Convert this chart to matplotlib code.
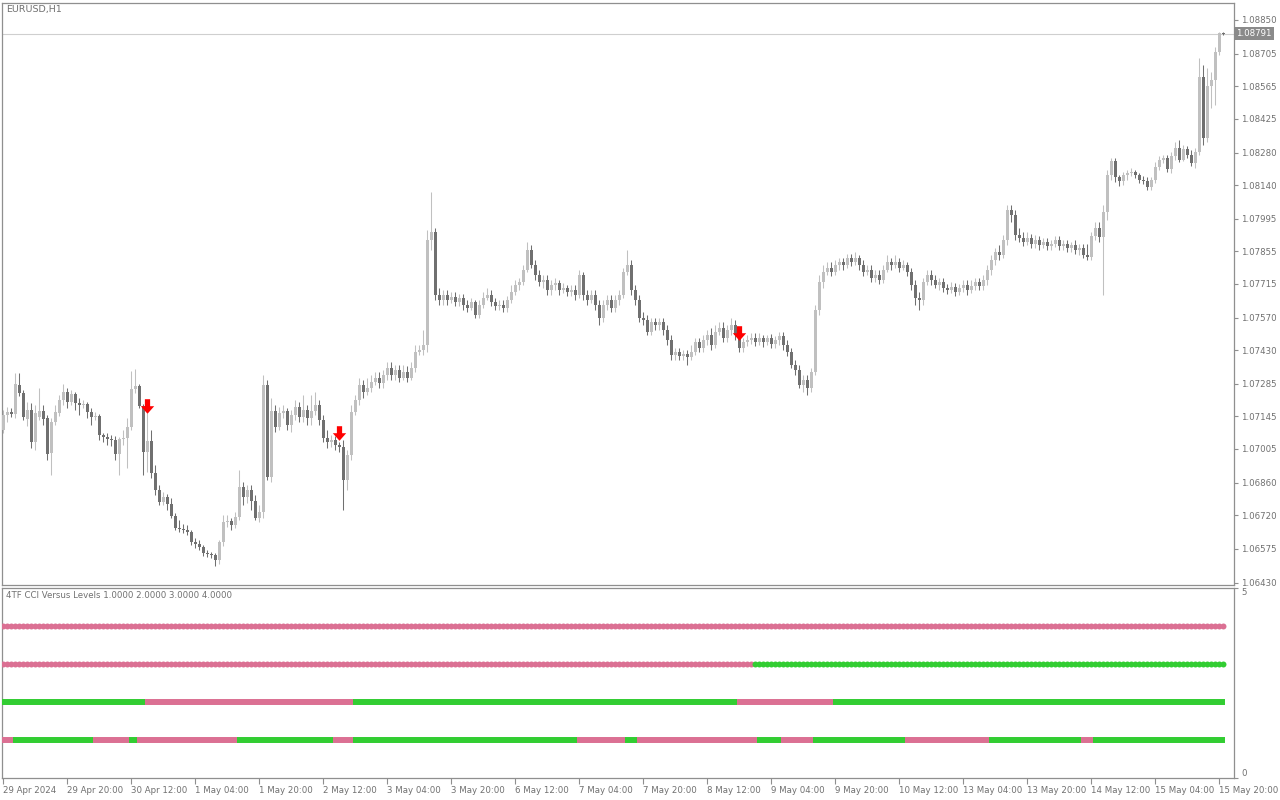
import numpy as np
import matplotlib.pyplot as plt
from matplotlib.path import Path

# EURUSD H1 bars, 29 Apr 2024 04:00 .. 15 May 21:00, quotes in points (1e-5)
open_pts = [
    107087, 107151, 107164, 107156, 107281, 107246, 107134, 107173, 107035, 107143,
    107169, 107139, 106988, 107121, 107160, 107216, 107250, 107207, 107242, 107203,
    107194, 107199, 107164, 107143, 107147, 107065, 107057, 107048, 107044, 106984,
    107048, 107053, 107100, 107263, 107276, 107190, 106992, 107040, 106902, 106829,
    106777, 106799, 106769, 106717, 106666, 106661, 106657, 106648, 106605, 106597,
    106584, 106558, 106554, 106550, 106528, 106605, 106691, 106696, 106679, 106713,
    106842, 106799, 106829, 106782, 106709, 106734, 107281, 106885, 107169, 107100,
    107160, 107169, 107108, 107151, 107186, 107143, 107173, 107139, 107169, 107194,
    107130, 107053, 107035, 107044, 107022, 107014, 106872, 106979, 107164, 107216,
    107281, 107250, 107268, 107293, 107311, 107289, 107324, 107354, 107324, 107345,
    107311, 107336, 107311, 107354, 107422, 107431, 107453, 107904, 107938, 107668,
    107646, 107668, 107646, 107659, 107637, 107655, 107625, 107612, 107637, 107581,
    107625, 107655, 107668, 107637, 107620, 107625, 107612, 107646, 107680, 107711,
    107723, 107775, 107861, 107797, 107754, 107723, 107732, 107689, 107711, 107719,
    107689, 107698, 107680, 107689, 107668, 107754, 107668, 107646, 107668, 107625,
    107569, 107625, 107646, 107612, 107646, 107668, 107766, 107797, 107689, 107646,
    107569, 107560, 107508, 107551, 107539, 107551, 107517, 107474, 107410, 107422,
    107405, 107414, 107401, 107422, 107465, 107440, 107474, 107496, 107453, 107508,
    107526, 107483, 107517, 107539, 107496, 107440, 107465, 107474, 107483, 107465,
    107483, 107465, 107483, 107457, 107474, 107491, 107453, 107422, 107367, 107345,
    107281, 107302, 107268, 107336, 107603, 107723, 107766, 107784, 107766, 107797,
    107809, 107797, 107827, 107809, 107827, 107797, 107766, 107775, 107741, 107754,
    107732, 107775, 107809, 107797, 107809, 107784, 107797, 107766, 107711, 107655,
    107646, 107723, 107754, 107732, 107711, 107723, 107698, 107689, 107702, 107680,
    107698, 107711, 107689, 107706, 107723, 107706, 107732, 107775, 107818, 107852,
    107839, 107904, 108033, 108012, 107925, 107913, 107895, 107913, 107887, 107904,
    107882, 107895, 107878, 107887, 107904, 107878, 107887, 107870, 107882, 107861,
    107870, 107839, 107831, 107921, 107956, 107917, 108024, 108184, 108244, 108175,
    108158, 108184, 108192, 108196, 108184, 108162, 108158, 108132, 108162, 108218,
    108248, 108257, 108209, 108265, 108300, 108248, 108295, 108270, 108235, 108282,
    108605, 108343, 108566, 108592, 108712, 108794,
]
high_pts = [
    107173, 107186, 107182, 107332, 107332, 107259, 107207, 107203, 107194, 107268,
    107194, 107151, 107139, 107194, 107238, 107285, 107268, 107259, 107250, 107225,
    107216, 107207, 107182, 107164, 107156, 107074, 107074, 107065, 107061, 107057,
    107087, 107139, 107341, 107349, 107285, 107199, 107160, 107087, 106937, 106850,
    106820, 106812, 106795, 106730, 106700, 106683, 106679, 106657, 106623, 106614,
    106593, 106571, 106562, 106558, 106614, 106721, 106721, 106709, 106734, 106915,
    106863, 106850, 106850, 106807, 106764, 107324, 107302, 107225, 107194, 107186,
    107194, 107182, 107173, 107216, 107207, 107238, 107194, 107238, 107250, 107216,
    107151, 107087, 107065, 107061, 107035, 107044, 107001, 107194, 107238, 107311,
    107302, 107311, 107324, 107336, 107336, 107345, 107379, 107379, 107367, 107367,
    107367, 107362, 107379, 107453, 107453, 107517, 107947, 108110, 107956, 107698,
    107689, 107689, 107680, 107680, 107672, 107672, 107646, 107655, 107646, 107646,
    107680, 107698, 107689, 107655, 107646, 107646, 107663, 107711, 107732, 107741,
    107797, 107895, 107882, 107818, 107775, 107754, 107754, 107732, 107741, 107732,
    107719, 107711, 107711, 107711, 107775, 107766, 107689, 107689, 107689, 107646,
    107646, 107668, 107668, 107668, 107689, 107784, 107861, 107818, 107711, 107668,
    107594, 107581, 107569, 107569, 107569, 107569, 107539, 107496, 107440, 107440,
    107431, 107431, 107453, 107483, 107483, 107496, 107517, 107526, 107539, 107551,
    107551, 107539, 107569, 107560, 107517, 107483, 107496, 107504, 107504, 107504,
    107496, 107496, 107500, 107491, 107508, 107508, 107474, 107440, 107388, 107367,
    107324, 107324, 107354, 107625, 107754, 107797, 107809, 107809, 107818, 107827,
    107827, 107844, 107844, 107852, 107839, 107818, 107797, 107797, 107775, 107775,
    107797, 107839, 107827, 107839, 107827, 107818, 107809, 107784, 107732, 107680,
    107741, 107775, 107775, 107754, 107741, 107741, 107715, 107723, 107719, 107715,
    107732, 107732, 107732, 107741, 107741, 107754, 107797, 107839, 107870, 107882,
    107925, 108055, 108055, 108033, 107956, 107938, 107938, 107930, 107925, 107921,
    107913, 107913, 107904, 107921, 107921, 107904, 107904, 107895, 107904, 107887,
    107887, 107887, 107938, 107981, 107981, 108055, 108205, 108257, 108257, 108184,
    108196, 108205, 108214, 108205, 108190, 108179, 108175, 108175, 108239, 108265,
    108270, 108270, 108282, 108325, 108334, 108313, 108308, 108291, 108300, 108687,
    108657, 108644, 108626, 108734, 108798, 108798,
]
low_pts = [
    107074, 107121, 107143, 107139, 107233, 107130, 107104, 107010, 107001, 107130,
    107108, 106958, 106894, 107108, 107147, 107194, 107182, 107194, 107173, 107151,
    107182, 107139, 107108, 107130, 107044, 107035, 107022, 107018, 106958, 106894,
    107022, 106924, 107087, 107246, 107182, 106894, 106906, 106881, 106807, 106764,
    106764, 106743, 106709, 106657, 106648, 106644, 106635, 106593, 106580, 106571,
    106545, 106541, 106537, 106502, 106511, 106588, 106670, 106657, 106666, 106700,
    106764, 106773, 106743, 106700, 106691, 106709, 106872, 106863, 107078, 107087,
    107139, 107087, 107078, 107130, 107121, 107121, 107108, 107108, 107151, 107108,
    107035, 107010, 107014, 107001, 106992, 106743, 106829, 106958, 107151, 107194,
    107225, 107238, 107250, 107281, 107268, 107268, 107302, 107302, 107302, 107293,
    107302, 107293, 107302, 107336, 107410, 107410, 107422, 107861, 107646, 107625,
    107625, 107625, 107633, 107620, 107620, 107603, 107594, 107603, 107569, 107569,
    107612, 107646, 107620, 107603, 107603, 107594, 107594, 107633, 107668, 107689,
    107711, 107766, 107784, 107732, 107706, 107698, 107668, 107668, 107689, 107668,
    107676, 107663, 107663, 107646, 107655, 107646, 107625, 107633, 107603, 107539,
    107551, 107603, 107594, 107594, 107625, 107655, 107754, 107668, 107625, 107551,
    107539, 107496, 107496, 107517, 107517, 107496, 107453, 107388, 107388, 107388,
    107388, 107367, 107388, 107410, 107422, 107422, 107453, 107431, 107440, 107496,
    107465, 107465, 107496, 107474, 107422, 107422, 107448, 107457, 107448, 107453,
    107444, 107453, 107440, 107440, 107453, 107431, 107405, 107354, 107324, 107268,
    107250, 107238, 107250, 107324, 107581, 107698, 107754, 107749, 107754, 107775,
    107775, 107784, 107792, 107797, 107775, 107749, 107754, 107723, 107723, 107715,
    107719, 107766, 107775, 107784, 107766, 107775, 107749, 107689, 107625, 107603,
    107625, 107711, 107711, 107698, 107689, 107680, 107672, 107676, 107663, 107668,
    107680, 107668, 107676, 107689, 107689, 107689, 107711, 107754, 107797, 107818,
    107827, 107882, 107981, 107904, 107895, 107878, 107882, 107870, 107870, 107861,
    107870, 107861, 107861, 107874, 107861, 107861, 107852, 107852, 107844, 107839,
    107827, 107818, 107818, 107904, 107895, 107668, 107990, 108162, 108153, 108136,
    108141, 108162, 108179, 108171, 108149, 108145, 108119, 108119, 108149, 108205,
    108235, 108196, 108192, 108248, 108239, 108244, 108257, 108222, 108214, 108270,
    108313, 108325, 108472, 108485, 108700, 108786,
]
close_pts = [
    107151, 107164, 107156, 107285, 107246, 107143, 107173, 107035, 107160, 107169,
    107134, 106984, 107121, 107164, 107216, 107250, 107207, 107242, 107203, 107194,
    107199, 107164, 107143, 107147, 107065, 107057, 107048, 107044, 106984, 107048,
    107053, 107100, 107263, 107276, 107190, 106992, 107040, 106902, 106829, 106777,
    106799, 106769, 106717, 106666, 106661, 106657, 106648, 106605, 106597, 106584,
    106558, 106554, 106550, 106528, 106605, 106691, 106696, 106679, 106713, 106842,
    106799, 106829, 106782, 106709, 106734, 107281, 106885, 107169, 107100, 107160,
    107169, 107108, 107151, 107186, 107143, 107173, 107139, 107169, 107194, 107130,
    107053, 107035, 107044, 107022, 107014, 106872, 106979, 107164, 107216, 107281,
    107250, 107268, 107293, 107311, 107289, 107324, 107354, 107324, 107345, 107311,
    107336, 107311, 107354, 107422, 107431, 107453, 107904, 107938, 107668, 107646,
    107668, 107646, 107659, 107637, 107655, 107625, 107612, 107637, 107581, 107625,
    107655, 107668, 107637, 107620, 107625, 107612, 107646, 107680, 107711, 107723,
    107775, 107861, 107797, 107754, 107723, 107732, 107689, 107711, 107719, 107689,
    107698, 107680, 107689, 107668, 107754, 107668, 107646, 107668, 107625, 107569,
    107625, 107646, 107612, 107646, 107668, 107766, 107797, 107689, 107646, 107569,
    107560, 107508, 107551, 107539, 107551, 107517, 107474, 107410, 107422, 107405,
    107414, 107401, 107422, 107465, 107440, 107474, 107496, 107453, 107508, 107526,
    107483, 107517, 107539, 107496, 107440, 107465, 107474, 107483, 107465, 107483,
    107465, 107483, 107457, 107474, 107491, 107453, 107422, 107367, 107345, 107281,
    107302, 107268, 107336, 107603, 107723, 107766, 107784, 107766, 107797, 107809,
    107797, 107827, 107809, 107827, 107797, 107766, 107775, 107741, 107754, 107732,
    107775, 107809, 107797, 107809, 107784, 107797, 107766, 107711, 107655, 107646,
    107723, 107754, 107732, 107711, 107723, 107698, 107689, 107702, 107680, 107698,
    107711, 107689, 107706, 107723, 107706, 107732, 107775, 107818, 107852, 107839,
    107904, 108033, 108012, 107925, 107913, 107895, 107913, 107887, 107904, 107882,
    107895, 107878, 107887, 107904, 107878, 107887, 107870, 107882, 107861, 107870,
    107839, 107831, 107921, 107956, 107917, 108024, 108184, 108244, 108175, 108158,
    108184, 108192, 108196, 108184, 108162, 108158, 108132, 108162, 108218, 108248,
    108257, 108209, 108265, 108300, 108248, 108295, 108270, 108235, 108282, 108605,
    108343, 108566, 108592, 108712, 108794, 108791,
]

# sell arrows drawn by the indicator (bar index, price)
arrow_bars = [36, 84, 184]
arrow_prices = [1.07190, 1.07074, 1.07504]

# 4TF CCI state per level as runs of (state, bars); 1 = above (green), 0 = below (pink)
runs_lvl1 = [(0, 3), (1, 20), (0, 9), (1, 2), (0, 25), (1, 24), (0, 5), (1, 56), (0, 12),
             (1, 3), (0, 30), (1, 6), (0, 8), (1, 23), (0, 21), (1, 23), (0, 3), (1, 33)]
runs_lvl2 = [(1, 36), (0, 52), (1, 96), (0, 24), (1, 98)]
runs_lvl3 = [(0, 188), (1, 118)]
runs_lvl4 = [(0, 306)]

price_ticks = [1.08850, 1.08705, 1.08565, 1.08425, 1.08280, 1.08140, 1.07995, 1.07855, 1.07715,
               1.07570, 1.07430, 1.07285, 1.07145, 1.07005, 1.06860, 1.06720, 1.06575, 1.06430]
time_labels = ["29 Apr 2024", "29 Apr 20:00", "30 Apr 12:00", "1 May 04:00", "1 May 20:00",
               "2 May 12:00", "3 May 04:00", "3 May 20:00", "6 May 12:00", "7 May 04:00",
               "7 May 20:00", "8 May 12:00", "9 May 04:00", "9 May 20:00", "10 May 12:00",
               "13 May 04:00", "13 May 20:00", "14 May 12:00", "15 May 04:00", "15 May 20:00"]
label_step = 16

BULL = "#c0c0c0"
BEAR = "#707070"
PINK = "#db7093"
GREEN = "#32cd32"
FRAME = "#8f8f8f"
TEXT = "#707070"

plt.rcParams["font.family"] = "DejaVu Sans"
plt.rcParams["font.size"] = 6.2

o = np.array(open_pts) / 1e5
h = np.array(high_pts) / 1e5
l = np.array(low_pts) / 1e5
c = np.array(close_pts) / 1e5
x = np.arange(len(c))

fig = plt.figure(figsize=(12.8, 8), dpi=100)
ax = fig.add_axes([2 / 1280, 1 - 585 / 800, 1232 / 1280, 582 / 800])
ax2 = fig.add_axes([2 / 1280, 1 - 778 / 800, 1232 / 1280, 190 / 800])

xlim = (-0.25, 307.75)

# --- price pane ---
col = np.where(c >= o, BULL, BEAR)
ax.vlines(x, l, h, colors=col, lw=0.75, zorder=2)
body = np.maximum(np.abs(c - o), 0.000012)
ax.bar(x, body, bottom=np.minimum(o, c), width=0.75, color=col, linewidth=0, zorder=3)

ax.axhline(c[-1], color="#cfcfcf", lw=0.8, zorder=1)

arrow = Path([(-0.18, 0.5), (0.18, 0.5), (0.18, 0.02), (0.46, 0.02), (0.0, -0.5),
              (-0.46, 0.02), (-0.18, 0.02), (-0.18, 0.5)],
             [Path.MOVETO] + [Path.LINETO] * 6 + [Path.CLOSEPOLY])
ax.scatter(arrow_bars, arrow_prices, marker=arrow, s=110, color="#ff0000", linewidths=0, zorder=5)

ax.set_xlim(*xlim)
ax.set_ylim(1.06420, 1.08923)
ax.yaxis.tick_right()
ax.set_yticks(price_ticks)
ax.set_yticklabels([f"{v:.5f}" for v in price_ticks])
ax.tick_params(axis="y", direction="out", length=3, width=0.8, pad=2, colors=FRAME, labelcolor=TEXT)
ax.tick_params(axis="x", bottom=False, labelbottom=False)
for s in ax.spines.values():
    s.set_color(FRAME)
    s.set_linewidth(0.9)

ax.text(0.003, 0.996, "EURUSD,H1", transform=ax.transAxes, ha="left", va="top", color=TEXT,
        fontsize=6.8)
ax.text(1.0017, c[-1], f"{c[-1]:.5f}", transform=ax.get_yaxis_transform(), ha="left", va="center",
        color="white", bbox=dict(fc="#8a8a8a", ec="none", boxstyle="square,pad=0.25"), zorder=6)

# --- indicator pane ---
for lvl, runs in [(1, runs_lvl1), (2, runs_lvl2), (3, runs_lvl3), (4, runs_lvl4)]:
    start = 0
    for state, n in runs:
        colr = GREEN if state else PINK
        if lvl >= 3:
            xs = np.arange(start, start + n)
            ax2.plot(xs, np.full(n, lvl), "o", ms=4.3, color=colr, mec="none", zorder=3)
        else:
            ax2.hlines(lvl, start - 0.5, start + n - 0.5, color=colr, lw=4.3, zorder=3)
        start += n

ax2.set_xlim(*xlim)
ax2.set_ylim(0, 5)
ax2.yaxis.tick_right()
ax2.set_yticks([0, 5])
ax2.set_yticklabels(["0", "5"])
labs = ax2.get_yticklabels()
labs[0].set_va("bottom")
labs[1].set_va("top")
ax2.tick_params(axis="y", direction="out", length=3, width=0.8, pad=2, colors=FRAME, labelcolor=TEXT)

tick_pos = np.arange(len(time_labels)) * label_step
ax2.set_xticks(tick_pos)
ax2.set_xticklabels(time_labels, ha="left")
ax2.tick_params(axis="x", direction="out", length=4, width=0.8, pad=2, colors=FRAME, labelcolor=TEXT)
for s in ax2.spines.values():
    s.set_color(FRAME)
    s.set_linewidth(0.9)

ax2.text(0.003, 0.985, "4TF CCI Versus Levels 1.0000 2.0000 3.0000 4.0000",
         transform=ax2.transAxes, ha="left", va="top", color=TEXT)

fig.savefig("out.png", dpi=100)
